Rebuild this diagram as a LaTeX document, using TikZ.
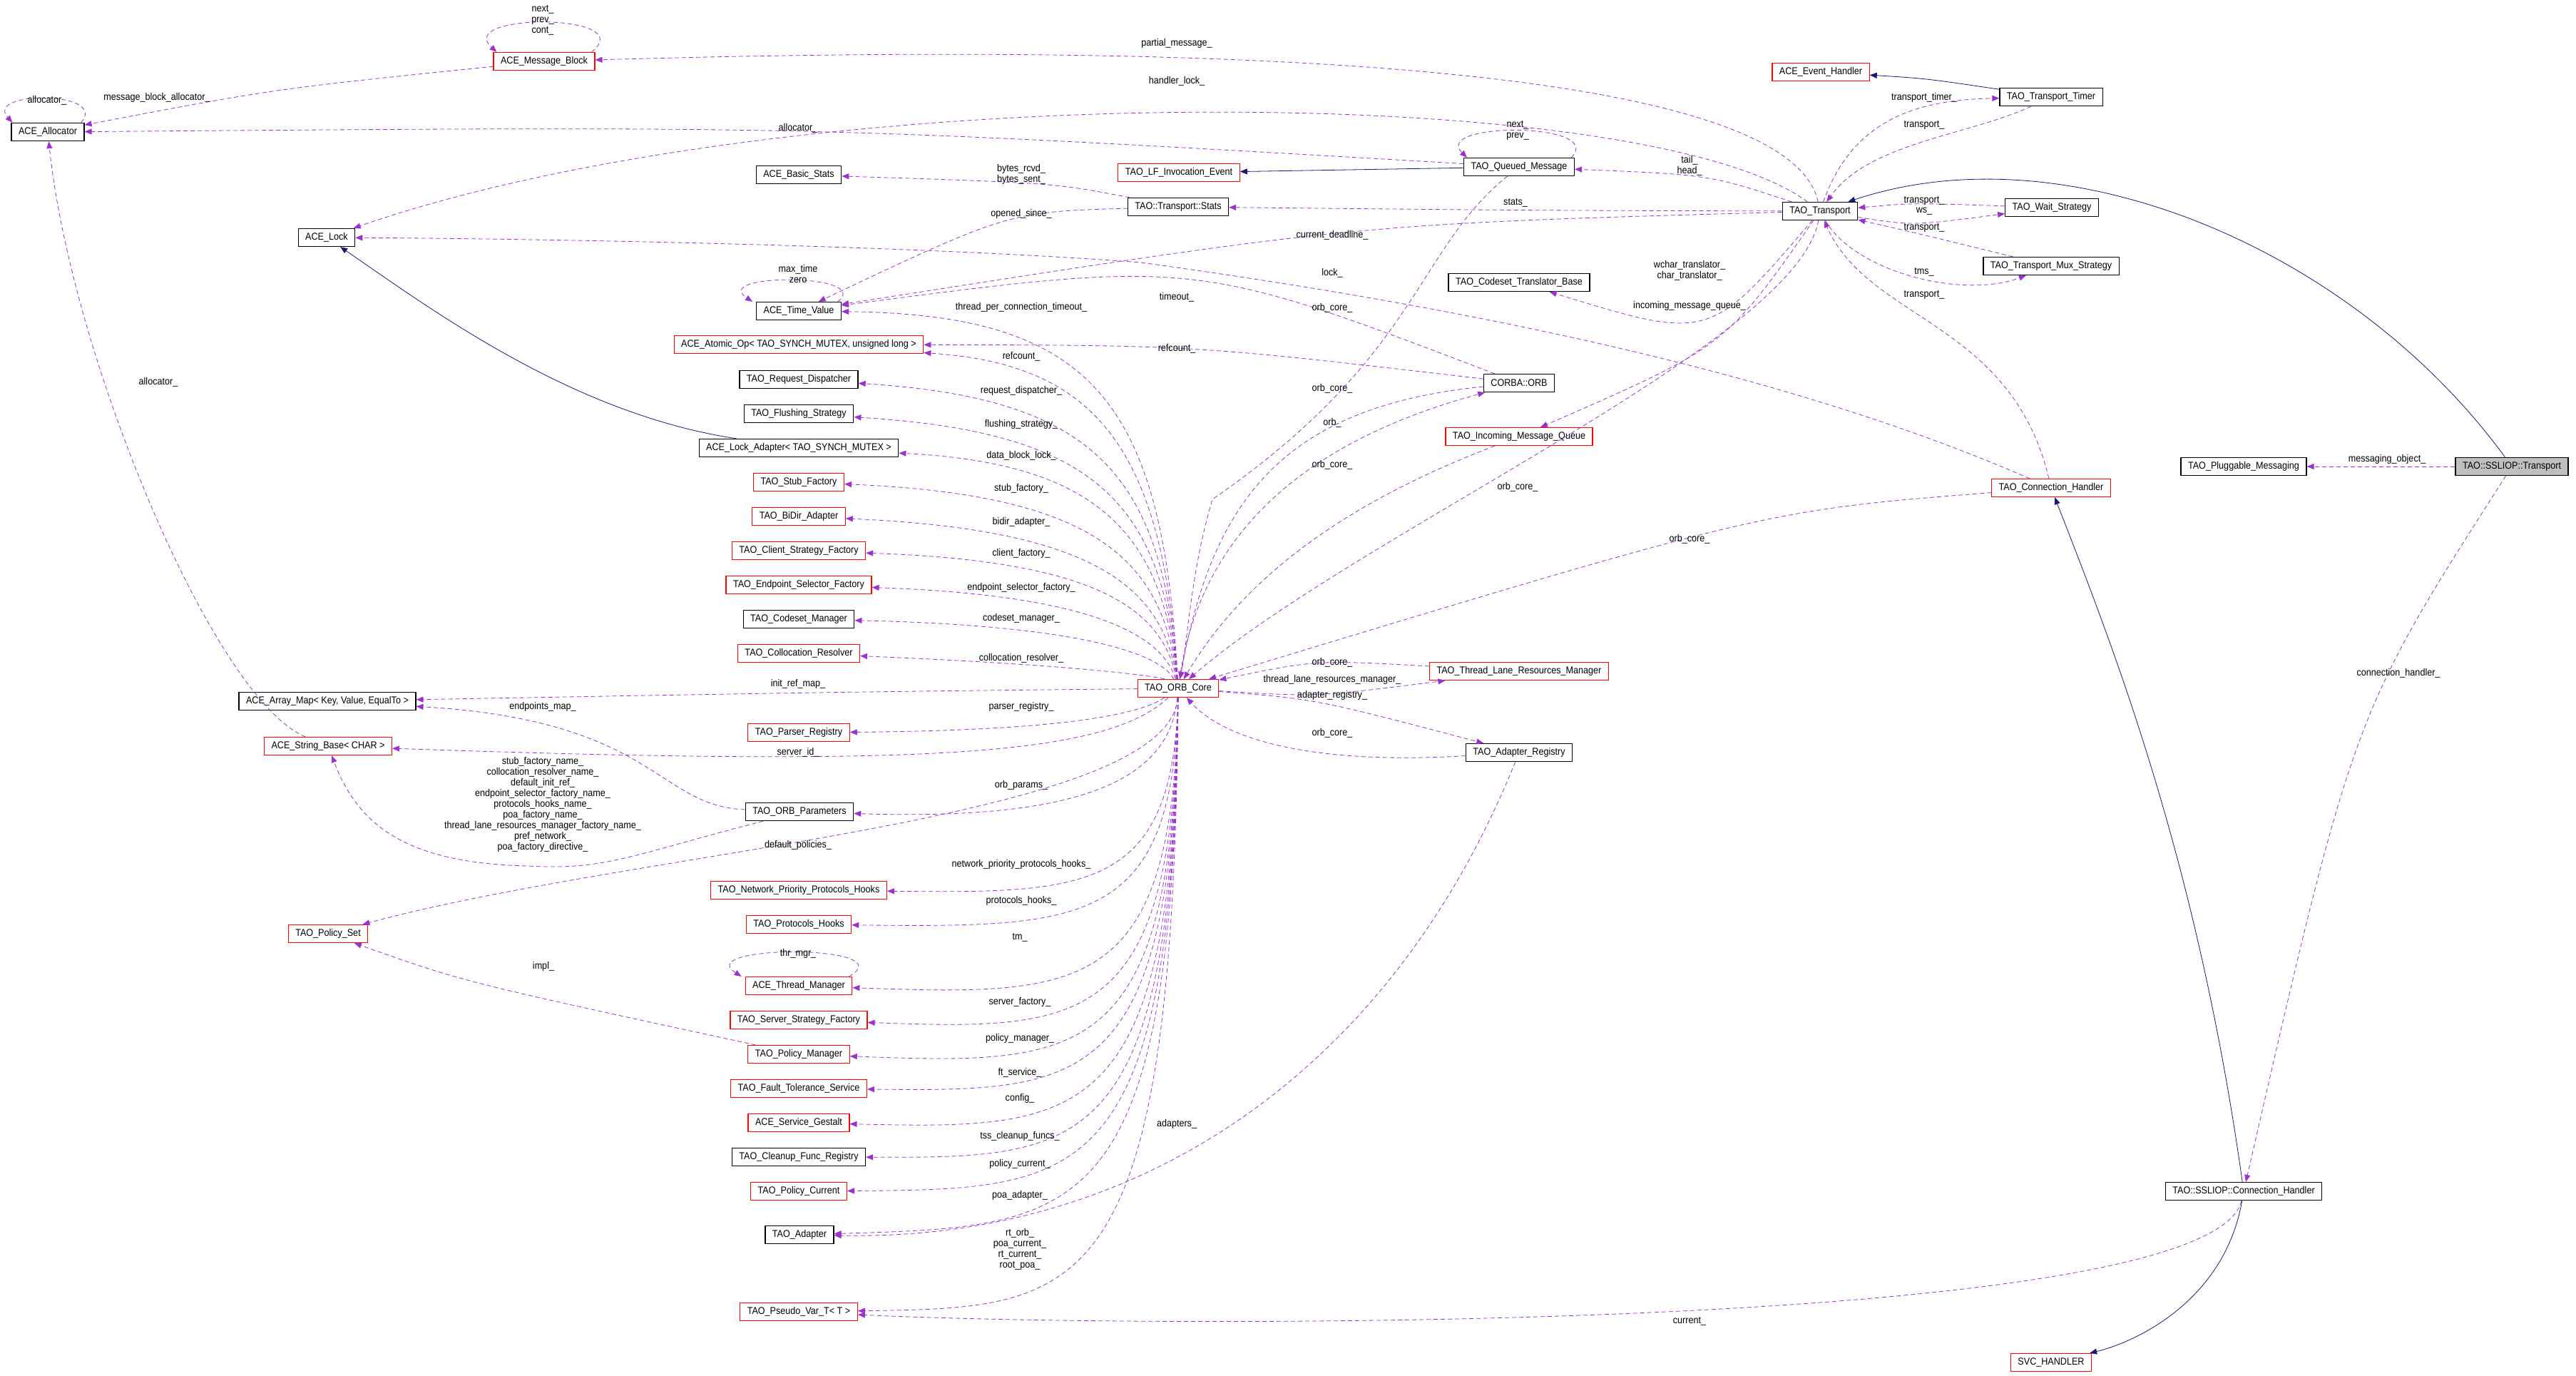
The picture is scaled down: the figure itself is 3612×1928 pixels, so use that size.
\documentclass[tikz,border=0pt]{standalone}
\usepackage{fontspec}
\setmainfont[FakeStretch=0.9]{Liberation Sans}
\usetikzlibrary{calc,arrows.meta}
\definecolor{depc}{HTML}{9A32CD}
\definecolor{inhc}{HTML}{191970}
\newcommand\depE[3]{\coordinate (m) at ($(#1)!.5!(#3)$);\coordinate (c) at ($2*(#2)-(m)$);\draw[dep] (#1) .. controls (c) .. (#3);}
\newcommand\oce[3]{\draw[dep] (oc) .. controls (1630,#3) and (1530,#2) .. (#1);}
\newcommand\ocb[2]{\draw[dep] (oc) .. controls (1645,#2) and (1520,#2) .. (#1);}
\begin{document}
\begin{tikzpicture}[x=0.5pt,y=-0.5pt,
 box/.style={draw=black,line width=0.6pt,fill=white,inner xsep=5pt,inner ysep=0pt,minimum height=12.5pt,font=\fontsize{7}{8}\selectfont},
 rbox/.style={box,draw=red},
 gbox/.style={box,fill=black!25},
 lbl/.style={inner sep=0pt,align=center,font=\fontsize{7}{7.5}\selectfont},
 dep/.style={depc,dashed,dash pattern=on 3pt off 2pt,line width=0.4pt,-{Triangle[length=5pt,width=4pt]}},
 inh/.style={inhc,line width=0.4pt,-{Triangle[length=5pt,width=4pt]}}]
\useasboundingbox (0,0) rectangle (3612,1928);
% nodes
\node[rbox] (mb) at (763,86) {ACE\_Message\_Block};
\node[box] (al) at (67,185) {ACE\_Allocator};
\node[box] (lock) at (458,333) {ACE\_Lock};
\node[box] (bs) at (1120,245) {ACE\_Basic\_Stats};
\node[box] (tv) at (1120,436) {ACE\_Time\_Value};
\node[rbox] (ao) at (1120,483) {ACE\_Atomic\_Op< TAO\_SYNCH\_MUTEX, unsigned long >};
\node[box] (rd) at (1120,532) {TAO\_Request\_Dispatcher};
\node[box] (fs) at (1120,580) {TAO\_Flushing\_Strategy};
\node[box] (la) at (1120,628) {ACE\_Lock\_Adapter< TAO\_SYNCH\_MUTEX >};
\node[rbox] (sf) at (1120,676) {TAO\_Stub\_Factory};
\node[rbox] (bd) at (1120,724) {TAO\_BiDir\_Adapter};
\node[rbox] (cs) at (1120,772) {TAO\_Client\_Strategy\_Factory};
\node[rbox] (es) at (1120,820) {TAO\_Endpoint\_Selector\_Factory};
\node[box] (cm) at (1120,868) {TAO\_Codeset\_Manager};
\node[rbox] (cr) at (1120,916) {TAO\_Collocation\_Resolver};
\node[box] (am) at (459,983) {ACE\_Array\_Map< Key, Value, EqualTo >};
\node[rbox] (pr) at (1120,1027) {TAO\_Parser\_Registry};
\node[rbox] (sb) at (460,1046) {ACE\_String\_Base< CHAR >};
\node[box] (op) at (1121,1138) {TAO\_ORB\_Parameters};
\node[rbox] (np) at (1120,1248) {TAO\_Network\_Priority\_Protocols\_Hooks};
\node[rbox] (ph) at (1120,1296) {TAO\_Protocols\_Hooks};
\node[rbox] (ps) at (460,1309) {TAO\_Policy\_Set};
\node[rbox] (tm) at (1120,1382) {ACE\_Thread\_Manager};
\node[rbox] (ss) at (1120,1430) {TAO\_Server\_Strategy\_Factory};
\node[rbox] (pm) at (1120,1478) {TAO\_Policy\_Manager};
\node[rbox] (ft) at (1120,1526) {TAO\_Fault\_Tolerance\_Service};
\node[rbox] (sg) at (1120,1574) {ACE\_Service\_Gestalt};
\node[box] (cf) at (1120,1622) {TAO\_Cleanup\_Func\_Registry};
\node[rbox] (pc) at (1120,1670) {TAO\_Policy\_Current};
\node[box] (ad) at (1121,1731) {TAO\_Adapter};
\node[rbox] (pv) at (1120,1839) {TAO\_Pseudo\_Var\_T< T >};
\node[rbox] (lf) at (1653,242) {TAO\_LF\_Invocation\_Event};
\node[box] (st) at (1652,290) {TAO::Transport::Stats};
\node[rbox] (oc) at (1652,965) {TAO\_ORB\_Core};
\node[box] (qm) at (2130,234) {TAO\_Queued\_Message};
\node[box] (ctb) at (2130,396) {TAO\_Codeset\_Translator\_Base};
\node[box] (orb) at (2130,537) {CORBA::ORB};
\node[rbox] (imq) at (2130,612) {TAO\_Incoming\_Message\_Queue};
\node[rbox] (tl) at (2130,941) {TAO\_Thread\_Lane\_Resources\_Manager};
\node[box] (ar) at (2130,1055) {TAO\_Adapter\_Registry};
\node[rbox] (eh) at (2553,101) {ACE\_Event\_Handler};
\node[box] (tr) at (2552,296) {TAO\_Transport};
\node[box] (tt) at (2876,136) {TAO\_Transport\_Timer};
\node[box] (ws) at (2877,291) {TAO\_Wait\_Strategy};
\node[box] (mx) at (2876,373) {TAO\_Transport\_Mux\_Strategy};
\node[rbox] (ch) at (2876,684) {TAO\_Connection\_Handler};
\node[box] (pmsg) at (3146,654) {TAO\_Pluggable\_Messaging};
\node[gbox] (sst) at (3522,654) {TAO::SSLIOP::Transport};
\node[box] (sch) at (3146,1670) {TAO::SSLIOP::Connection\_Handler};
\node[rbox] (svc) at (2876,1910) {SVC\_HANDLER};
% inheritance
\draw[inh] (tt) .. controls (2700,110) .. (eh);
\draw[inh] (qm) -- (lf);
\draw[inh] (la) .. controls (800,580) and (600,430) .. (lock);
\draw[inh] (sst) .. controls (3300,350) and (2900,180) .. (tr);
\draw[inh] (sch) .. controls (3080,1200) and (2960,900) .. (ch);
\draw[inh] (sch) .. controls (3120,1820) and (3000,1880) .. (svc);
% self loops
\draw[dep] ($(mb.north east)+(-5,0)$) .. controls +(70,-55) and +(-60,-55) .. ($(mb.north west)+(5,0)$);
\node[lbl] at (761,28) {next\_\\prev\_\\cont\_};
\draw[dep] ($(al.north east)+(-5,0)$) .. controls +(40,-45) and +(-40,-45) .. ($(al.north west)+(2,0)$);
\node[lbl] at (66,141) {allocator\_};
\draw[dep] ($(qm.north east)+(-5,0)$) .. controls +(50,-50) and +(-50,-50) .. ($(qm.north west)+(5,0)$);
\node[lbl] at (2128,183) {next\_\\prev\_};
\draw[dep] ($(tv.north east)+(-5,0)$) .. controls +(50,-40) and +(-60,-40) .. ($(tv.north west)+(-5,0)$);
\node[lbl] at (1119,384) {max\_time\\zero};
\draw[dep] ($(tm.north east)+(-5,0)$) .. controls +(80,-45) and +(-70,-45) .. ($(tm.north west)+(-5,0)$);
\node[lbl] at (1119,1337) {thr\_mgr\_};
% dependencies top-left
\depE{mb}{400,130}{al} \node[lbl] at (220,137) {message\_block\_allocator\_};
\depE{qm}{1119,193}{al} \node[lbl] at (1119,180) {allocator\_};
\draw[dep] (sb) .. controls (300,980) and (100,500) .. (al); \node[lbl] at (222,536) {allocator\_};
\draw[dep] (tr) .. controls (2500,55) and (1400,68) .. (mb); \node[lbl] at (1650,61) {partial\_message\_};
\draw[dep] (tr) .. controls (2300,110) and (1100,110) .. (lock); \node[lbl] at (1650,114) {handler\_lock\_};
\depE{st}{1432,262}{bs} \node[lbl] at (1432,244) {bytes\_rcvd\_\\bytes\_sent\_};
\depE{st}{1400,330}{tv} \node[lbl] at (1432,300) {opened\_since\_};
\depE{tr}{2125,294}{st} \node[lbl] at (2125,284) {stats\_};
\depE{tr}{2369,255}{qm} \node[lbl] at (2369,232) {tail\_\\head\_};
\depE{tr}{1868,340}{tv} \node[lbl] at (1868,330) {current\_deadline\_};
\draw[dep] (ch) .. controls (2500,520) and (2050,430) .. (1600,368) .. controls (1300,345) and (800,335) .. (lock); \node[lbl] at (1868,383) {lock\_};
\depE{tr}{2369,412}{ctb} \node[lbl] at (2369,379) {wchar\_translator\_\\char\_translator\_};
\depE{tr}{2380,470}{imq} \node[lbl] at (2369,429) {incoming\_message\_queue\_};
\depE{orb}{1650,425}{tv} \node[lbl] at (1650,417) {timeout\_};
\depE{orb}{1650,497}{ao} \node[lbl] at (1650,489) {refcount\_};
% ORB_Core to left column
\oce{tv}{441}{560} \node[lbl] at (1432,431) {thread\_per\_connection\_timeout\_};
\oce{ao}{510}{620} \node[lbl] at (1432,500) {refcount\_};
\oce{rd}{558}{660} \node[lbl] at (1432,548) {request\_dispatcher\_};
\oce{fs}{605}{700} \node[lbl] at (1432,595) {flushing\_strategy\_};
\oce{la}{649}{740} \node[lbl] at (1432,639) {data\_block\_lock\_};
\oce{sf}{693}{780} \node[lbl] at (1432,685) {stub\_factory\_};
\oce{bd}{742}{820} \node[lbl] at (1432,732) {bidir\_adapter\_};
\oce{cs}{786}{850} \node[lbl] at (1432,776) {client\_factory\_};
\oce{es}{834}{890} \node[lbl] at (1432,824) {endpoint\_selector\_factory\_};
\oce{cm}{877}{920} \node[lbl] at (1432,867) {codeset\_manager\_};
\oce{cr}{933}{950} \node[lbl] at (1432,923) {collocation\_resolver\_};
\depE{oc}{1119,972}{am} \node[lbl] at (1119,959) {init\_ref\_map\_};
\draw[dep] (oc) .. controls (1600,1000) and (1500,1024) .. (pr); \node[lbl] at (1432,991) {parser\_registry\_};
\draw[dep] (oc) .. controls (1550,1060) and (1300,1075) .. (sb); \node[lbl] at (1119,1055) {server\_id\_};
\draw[dep] (oc) .. controls (1640,1100) and (1500,1150) .. (op); \node[lbl] at (1432,1101) {orb\_params\_};
\draw[dep] (oc) .. controls (1640,1150) and (900,1190) .. (ps); \node[lbl] at (1119,1185) {default\_policies\_};
\ocb{np}{1252} \node[lbl] at (1432,1212) {network\_priority\_protocols\_hooks\_};
\ocb{ph}{1300} \node[lbl] at (1432,1263) {protocols\_hooks\_};
\ocb{tm}{1396} \node[lbl] at (1430,1314) {tm\_};
\ocb{ss}{1444} \node[lbl] at (1430,1405) {server\_factory\_};
\ocb{pm}{1493} \node[lbl] at (1430,1456) {policy\_manager\_};
\ocb{ft}{1530} \node[lbl] at (1430,1504) {ft\_service\_};
\ocb{sg}{1583} \node[lbl] at (1430,1540) {config\_};
\ocb{cf}{1623} \node[lbl] at (1430,1593) {tss\_cleanup\_funcs\_};
\ocb{pc}{1667} \node[lbl] at (1430,1632) {policy\_current\_};
\ocb{ad}{1719} \node[lbl] at (1430,1676) {poa\_adapter\_};
\ocb{pv}{1833} \node[lbl] at (1430,1751) {rt\_orb\_\\poa\_current\_\\rt\_current\_\\root\_poa\_};
% ORB_Core neighbours
\draw[dep] (oc) .. controls (1690,700) and (1900,600) .. (orb); \node[lbl] at (1868,593) {orb\_};
\draw[dep] (orb) .. controls (1800,570) and (1700,700) .. (oc); \node[lbl] at (1868,545) {orb\_core\_};
\draw[dep] (qm) .. controls (1985,350) and (1990,500) .. (1700,700) .. controls (1670,800) and (1665,900) .. (oc); \node[lbl] at (1868,432) {orb\_core\_};
\draw[dep] (imq) .. controls (1900,700) and (1750,800) .. (oc); \node[lbl] at (1868,652) {orb\_core\_};
\draw[dep] (tr) .. controls (2520,480) and (1900,750) .. (oc); \node[lbl] at (2128,683) {orb\_core\_};
\depE{ch}{2369,770}{oc} \node[lbl] at (2369,756) {orb\_core\_};
\depE{tl}{1868,939}{oc} \node[lbl] at (1868,929) {orb\_core\_};
\depE{oc}{1868,965}{tl} \node[lbl] at (1868,953) {thread\_lane\_resources\_manager\_};
\depE{oc}{1868,995}{ar} \node[lbl] at (1868,975) {adapter\_registry\_};
\draw[dep] (ar) .. controls (1850,1072) and (1720,1040) .. (oc); \node[lbl] at (1868,1028) {orb\_core\_};
\draw[dep] (ar) .. controls (1950,1500) and (1600,1740) .. (ad); \node[lbl] at (1650,1576) {adapters\_};
\draw[dep] (sch) .. controls (3100,1870) and (1600,1862) .. (pv); \node[lbl] at (2369,1852) {current\_};
% params
\draw[dep] (op) .. controls (920,1130) and (920,1010) .. (am); \node[lbl] at (761,991) {endpoints\_map\_};
\draw[dep] (op) .. controls (880,1200) and (850,1220) .. (740,1214) .. controls (560,1210) and (500,1150) .. (sb);
\node[lbl] at (761,1128) {stub\_factory\_name\_\\collocation\_resolver\_name\_\\default\_init\_ref\_\\endpoint\_selector\_factory\_name\_\\protocols\_hooks\_name\_\\poa\_factory\_name\_\\thread\_lane\_resources\_manager\_factory\_name\_\\pref\_network\_\\poa\_factory\_directive\_};
\depE{pm}{720,1385}{ps} \node[lbl] at (762,1355) {impl\_};
% transport right side
\draw[dep] (tr) .. controls (2600,160) and (2700,140) .. (tt); \node[lbl] at (2698,137) {transport\_timer\_};
\draw[dep] (tt) .. controls (2760,190) and (2620,200) .. (tr); \node[lbl] at (2698,175) {transport\_};
\depE{ws}{2698,289}{tr} \node[lbl] at (2698,281) {transport\_};
\depE{tr}{2698,305}{ws} \node[lbl] at (2698,296) {ws\_};
\depE{mx}{2698,330}{tr} \node[lbl] at (2698,319) {transport\_};
\draw[dep] (tr) .. controls (2600,380) and (2750,420) .. (mx); \node[lbl] at (2698,381) {tms\_};
\draw[dep] (ch) .. controls (2820,450) and (2620,450) .. (tr); \node[lbl] at (2698,413) {transport\_};
\draw[dep] (sst) -- (pmsg); \node[lbl] at (3347,644) {messaging\_object\_};
\draw[dep] (sst) .. controls (3300,1000) .. (sch); \node[lbl] at (3363,944) {connection\_handler\_};
\end{tikzpicture}
\end{document}
